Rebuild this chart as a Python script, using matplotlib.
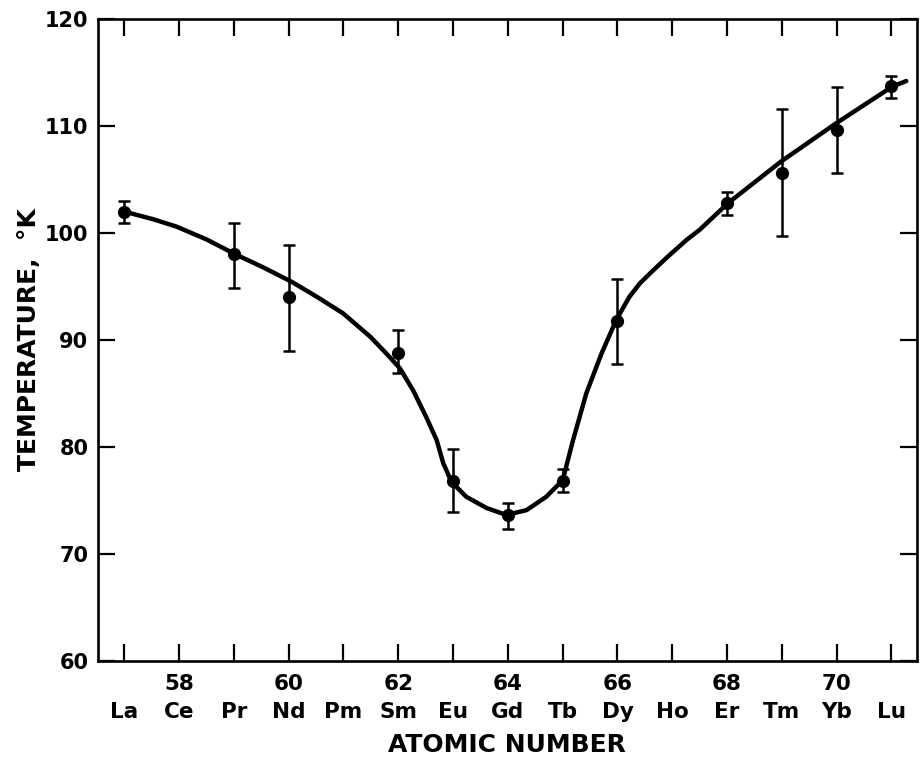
import matplotlib
matplotlib.use("Agg")
from matplotlib import pyplot as plt

# measured points (atomic number, temperature K, error bar low / high)
z = [57, 59, 60, 62, 63, 64, 65, 66, 68, 69, 70, 71]
temp = [102.0, 98.0, 94.0, 88.8, 76.8, 73.6, 76.8, 91.8, 102.8, 105.6, 109.6, 113.7]
err_lo = [100.9, 94.9, 89.0, 86.9, 73.9, 72.3, 75.8, 87.8, 101.7, 99.7, 105.6, 112.6]
err_hi = [103.0, 100.9, 98.9, 90.9, 79.8, 74.8, 77.9, 95.7, 103.8, 111.6, 113.6, 114.7]

# hand drawn curve
curve_x = [57.0, 57.53, 57.95, 58.5, 59.03, 59.53, 60.05, 60.51, 60.99, 61.49,
           61.78, 62.03, 62.27, 62.51, 62.70, 62.82, 62.97, 63.24, 63.61, 63.97,
           64.34, 64.70, 65.00, 65.19, 65.43, 65.71, 65.98, 66.22, 66.41, 66.65,
           66.92, 67.26, 67.5, 68.02, 68.99, 69.99, 71.02, 71.27]
curve_y = [102.0, 101.28, 100.6, 99.4, 98.0, 96.8, 95.45, 94.05, 92.5, 90.3,
           88.75, 87.35, 85.3, 82.8, 80.65, 78.5, 76.75, 75.35, 74.3, 73.65,
           74.1, 75.35, 76.9, 80.65, 85.0, 88.75, 91.9, 94.05, 95.3, 96.5,
           97.8, 99.35, 100.3, 102.8, 106.7, 110.25, 113.7, 114.2]

elements = ["La", "Ce", "Pr", "Nd", "Pm", "Sm", "Eu", "Gd", "Tb", "Dy",
            "Ho", "Er", "Tm", "Yb", "Lu"]
ticks_x = list(range(57, 72))
ticks_y = [60, 70, 80, 90, 100, 110, 120]

plt.rcParams['font.family'] = ['DejaVu Sans']
plt.rcParams['font.weight'] = 'bold'

fig = plt.figure(figsize=(9.21, 7.68), dpi=100)
ax = fig.add_axes([0.1064, 0.1393, 0.8889, 0.836])

ax.plot(curve_x, curve_y, color="black", lw=3.2, solid_capstyle="round",
        solid_joinstyle="round", zorder=2)

yerr = [[t - lo for t, lo in zip(temp, err_lo)],
        [hi - t for t, hi in zip(temp, err_hi)]]
ax.errorbar(z, temp, yerr=yerr, fmt="o", color="black", ms=8.5,
            elinewidth=1.8, capsize=4.3, capthick=1.8, zorder=3)

ax.set_xlim(56.52, 71.46)
ax.set_ylim(60, 120)

labels = []
for n, el in zip(ticks_x, elements):
    if n % 2 == 0:
        labels.append(str(n) + "\n" + el)
    else:
        labels.append("\n" + el)
ax.set_xticks(ticks_x)
ax.set_xticklabels(labels, fontsize=15.5, fontweight="bold", linespacing=1.5)
ax.set_yticks(ticks_y)
ax.set_yticklabels([str(v) for v in ticks_y], fontsize=15, fontweight="bold")

ax.tick_params(axis="both", direction="in", top=True, right=True,
               length=12, width=1.6)
ax.tick_params(axis="x", pad=9)
ax.tick_params(axis="y", pad=7)

for s in ax.spines.values():
    s.set_linewidth(1.9)

ax.set_xlabel("ATOMIC NUMBER", fontsize=18, fontweight="bold", labelpad=8)
ax.set_ylabel("TEMPERATURE,  °K", fontsize=18, fontweight="bold", labelpad=3)

plt.savefig("out.png", dpi=100)
